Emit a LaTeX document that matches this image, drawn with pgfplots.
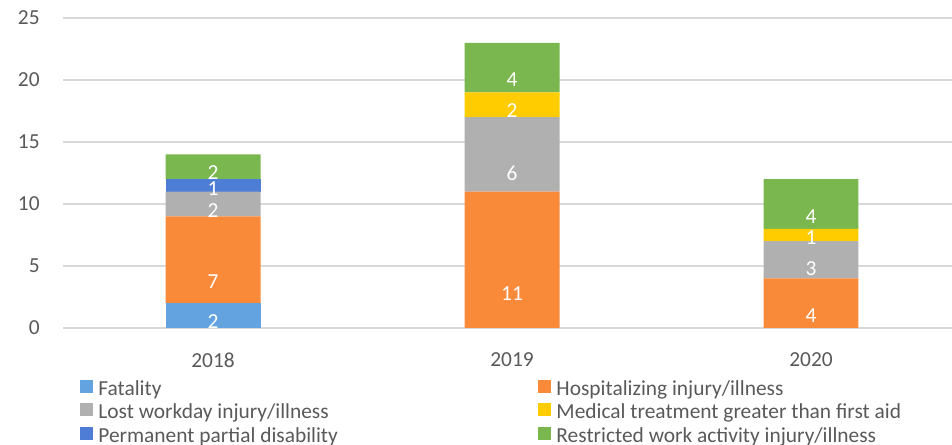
\documentclass[border=0pt]{standalone}
\usepackage{fontspec}
\setmainfont{Carlito}
\usepackage{pgfplots}
\pgfplotsset{compat=1.18}
\definecolor{cFat}{RGB}{99,164,224}
\definecolor{cHosp}{RGB}{249,138,58}
\definecolor{cLost}{RGB}{176,176,176}
\definecolor{cMed}{RGB}{255,204,0}
\definecolor{cPerm}{RGB}{77,125,212}
\definecolor{cRest}{RGB}{122,184,79}
\definecolor{gridgray}{RGB}{217,217,217}
\definecolor{textgray}{RGB}{89,89,89}
\newcommand{\chartfont}{\fontsize{10.7}{12.5}\selectfont}
\begin{document}
\begin{tikzpicture}
\useasboundingbox (0,0) rectangle (476pt,222pt);
\begin{axis}[
  at={(31.5pt,58pt)}, anchor=south west,
  scale only axis, width=444.5pt, height=155pt,
  ybar stacked, bar width=0.3177, bar shift=0pt,
  xmin=-0.5017, xmax=2.4716, ymin=0, ymax=25,
  xtick={0,1,2}, xticklabels={2018,2019,2020},
  ytick={0,5,...,25},
  ymajorgrids, grid style={draw=gridgray, line width=0.6pt},
  axis line style={draw=none}, major tick length=0pt,
  tick label style={font=\chartfont, text=textgray},
  /pgf/number format/assume math mode=true,
  yticklabel style={inner sep=0pt, xshift=-11.5pt},
  xticklabel style={inner sep=0pt, yshift=-12.25pt},
  point meta=explicit symbolic,
  nodes near coords,
  visualization depends on={rawy \as \rawy},
  every node near coord/.append style={font=\chartfont, text=white, anchor=center, inner sep=0pt,
    yshift=-\rawy*1.55pt},
  legend columns=2,
  legend cell align=left,
  legend style={draw=none, fill=none, at={(0.0191,-0.1637)}, anchor=north west,
    inner sep=0pt, row sep=0pt, column sep=0pt, font=\chartfont, text=textgray,
    nodes={inner sep=0pt, text height=8pt, text depth=3.75pt},
    /tikz/column 2/.style={column sep=100.3pt}},
  legend image code/.code={\fill[#1] (0pt,-1pt) rectangle (6.5pt,5.5pt); \path (9pt,0pt);},
]
\addplot[fill=cFat, draw=none] coordinates {(0,2) [2] (1,0) [{}] (2,0) [{}]};
\addlegendentry{Fatality}
\addplot[fill=cHosp, draw=none] coordinates {(0,7) [7] (1,11) [11] (2,4) [4]};
\addlegendentry{Hospitalizing injury/illness}
\addplot[fill=cLost, draw=none] coordinates {(0,2) [2] (1,6) [6] (2,3) [3]};
\addlegendentry{Lost workday injury/illness}
\addplot[fill=cMed, draw=none] coordinates {(0,0) [{}] (1,2) [2] (2,1) [1]};
\addlegendentry{Medical treatment greater than first aid}
\addplot[fill=cPerm, draw=none] coordinates {(0,1) [1] (1,0) [{}] (2,0) [{}]};
\addlegendentry{Permanent partial disability}
\addplot[fill=cRest, draw=none] coordinates {(0,2) [2] (1,4) [4] (2,4) [4]};
\addlegendentry{Restricted work activity injury/illness}
\end{axis}
\end{tikzpicture}
\end{document}
